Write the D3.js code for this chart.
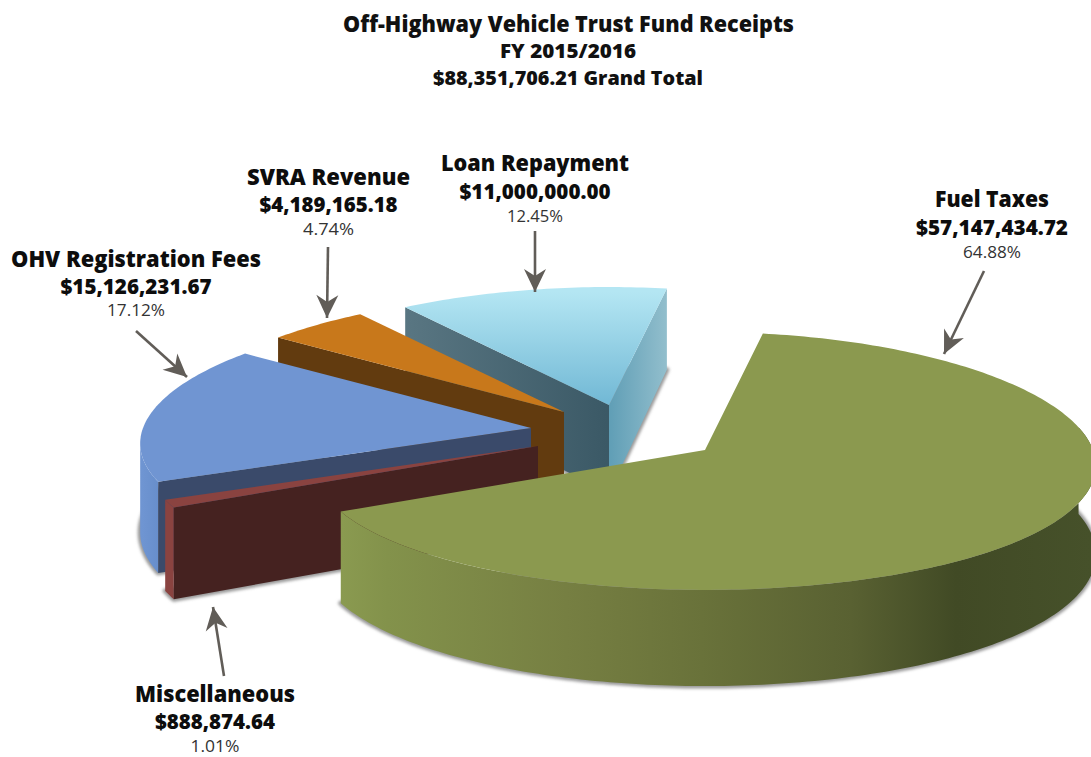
<!DOCTYPE html>
<html><head><meta charset="utf-8">
<script src="https://cdnjs.cloudflare.com/ajax/libs/d3/7.8.5/d3.min.js"></script>
<style>html,body{margin:0;background:#fff;overflow:hidden}svg{display:block}</style>
</head><body><svg id="c" width="1091" height="757"></svg>
<script>
const categories = ["Fuel Taxes","Miscellaneous","OHV Registration Fees","SVRA Revenue","Loan Repayment"];
const amounts = [57147434.72,888874.64,15126231.67,4189165.18,11000000.00];
const amountLabels = ["$57,147,434.72","$888,874.64","$15,126,231.67","$4,189,165.18","$11,000,000.00"];
const percentLabels = ["64.88%","1.01%","17.12%","4.74%","12.45%"];
const titleLines = ["Off-Highway Vehicle Trust Fund Receipts","FY 2015/2016","$88,351,706.21 Grand Total"];

const W=1091,H=757, svg=d3.select("#c");
const deg=Math.PI/180;
// layout
const apex = {"Fuel Taxes":[705,450],"Miscellaneous":[538,446],"OHV Registration Fees":[531,428],"SVRA Revenue":[564,412],"Loan Repayment":[609,405]};
const sx=d3.scaleLinear().domain([-1,1]).range([-388,388]);
const sy=d3.scaleLinear().domain([-1,1]).range([-128,128]);
const K=0.085, KX=0.12, DEPTH=88;
const pie=d3.pie().sort(null).value(d=>d).startAngle(9.6*deg).endAngle(369.6*deg);
const arcs=pie(amounts);
const slice=categories.map((c,i)=>({name:c,start:arcs[i].startAngle,end:arcs[i].endAngle,apex:apex[c]}));
const byName=Object.fromEntries(slice.map(s=>[s.name,s]));

function proj(s,t,r,low){
  const X=r*Math.sin(t),Y=-r*Math.cos(t),f=1/(1-K*Y),fx=1/(1-KX*Y);
  return [s.apex[0]+sx(X)*fx, s.apex[1]+sy(Y)*f+(low?DEPTH*f:0)];
}
function rim(s,a,b,low){
  const n=Math.max(2,Math.ceil(Math.abs(b-a)/(1*deg)));
  return d3.range(n+1).map(i=>proj(s,a+(b-a)*i/n,1,low));
}
const line=d3.line().curve(d3.curveLinear);
const closed=p=>line(p)+"Z";
const topFace=s=>closed([proj(s,0,0,false),...rim(s,s.start,s.end,false)]);
const baseFace=s=>closed([proj(s,0,0,true),...rim(s,s.start,s.end,true)]);
const cut=(s,t)=>closed([proj(s,0,0,false),proj(s,t,1,false),proj(s,t,1,true),proj(s,0,0,true)]);
const wall=(s,a,b)=>closed([...rim(s,a,b,false),...rim(s,b,a,true)]);
// angle of a slice's leftmost rim point, where its outer wall turns out of sight
function leftmost(s){
  const ts=d3.range(s.start,s.end,0.5*deg);
  return ts[d3.leastIndex(ts,(a,b)=>proj(s,a,1,false)[0]-proj(s,b,1,false)[0])];
}

// defs
const defs=svg.append("defs");
function grad(id,x1,y1,x2,y2,stops){
  const g=defs.append("linearGradient").attr("id",id).attr("gradientUnits","userSpaceOnUse")
    .attr("x1",x1).attr("y1",y1).attr("x2",x2).attr("y2",y2);
  stops.forEach(([o,c])=>g.append("stop").attr("offset",o).attr("stop-color",c));
}
grad("loanTop",0,292,0,400,[[0,"#b4e6f3"],[1,"#74bad6"]]);
grad("loanCut",406,0,607,0,[[0,"#597682"],[1,"#3b5966"]]);
grad("loanSide",607,0,668,0,[[0,"#5e9db5"],[1,"#93bfcd"]]);
grad("fuelWall",342,0,1091,0,[[0,"#8a9a50"],[.06,"#83924b"],[.3,"#767f42"],[.48,"#69723a"],[.68,"#596132"],[.82,"#414a25"],[1,"#46512a"]]);
grad("ohvWall",142,0,170,0,[[0,"#6f95d2"],[1,"#6289c6"]]);
const blur=defs.append("filter").attr("id","sh").attr("x","-10%").attr("y","-10%").attr("width","120%").attr("height","120%");
blur.append("feGaussianBlur").attr("stdDeviation",1.6);
defs.append("marker").attr("id","head").attr("markerUnits","userSpaceOnUse")
  .attr("viewBox","-24 -12 26 24").attr("refX",0).attr("refY",0).attr("markerWidth",26).attr("markerHeight",24).attr("orient","auto")
  .append("path").attr("d","M0,0L-23,-11L-16,0L-23,11Z").attr("fill","#615d58");

// shadows
const shadows=svg.append("g").attr("filter","url(#sh)");
slice.forEach(s=>shadows.append("path").attr("d",baseFace(s)).attr("fill","#9a9a9a").attr("stroke","#9a9a9a").attr("stroke-width",5).attr("stroke-linejoin","round"));

const g=svg.append("g");
const paint=(d,fill)=>g.append("path").attr("d",d).attr("fill",fill);

const L=byName["Loan Repayment"],S=byName["SVRA Revenue"],O=byName["OHV Registration Fees"],M=byName["Miscellaneous"],F=byName["Fuel Taxes"];
// Loan
paint(cut(L,L.start),"url(#loanCut)");
paint(cut(L,L.end),"url(#loanSide)");
paint(topFace(L),"url(#loanTop)");
// SVRA
paint(cut(S,S.start),"#623b0f");
paint(topFace(S),"#c8781b");
// OHV
paint(wall(O,O.start,leftmost(O)),"url(#ohvWall)");
paint(cut(O,O.start),"#3a4a6a");
paint(topFace(O),"#7095d2");
// Misc
paint(wall(M,M.start,M.end),"#8a4340");
paint(cut(M,M.start),"#452220");
paint(topFace(M),"#8a4340");
// Fuel
paint(wall(F,F.start+70*deg,F.end),"url(#fuelWall)");
paint(topFace(F),"#8b994f");

// arrows
const arrows=[[984,271,944,354],[535,231,535,292],[328,247,327,318],[136,331,187,377],[224,676,213,607]];
svg.append("g").selectAll("line").data(arrows).join("line")
  .attr("x1",d=>d[0]).attr("y1",d=>d[1]).attr("x2",d=>d[2]).attr("y2",d=>d[3])
  .attr("stroke","#615d58").attr("stroke-width",2.6).attr("marker-end","url(#head)");

// text
const FONT="'Open Sans',sans-serif";
function txt(t,cx,y,w,size,weight,fill){
  svg.append("text").attr("x",cx).attr("y",y).attr("text-anchor","middle")
   .attr("font-family",FONT).attr("font-size",size).attr("font-weight",weight).attr("fill",fill)
   .attr("textLength",w).attr("lengthAdjust","spacingAndGlyphs").text(t);
}
txt(titleLines[0],568.5,32,451,22,800,"#111");
txt(titleLines[1],568,58,136,19.5,800,"#111");
txt(titleLines[2],568,85,270,19.5,800,"#111");
const labelPos={ // cx, baselines, widths
 "Fuel Taxes":[992,[207,235,258],[114,152,58]],
 "Miscellaneous":[215,[702,729,752],[160,120,49]],
 "OHV Registration Fees":[136,[267,294,316],[250,151,58]],
 "SVRA Revenue":[328.5,[185,212,235],[163,138,51]],
 "Loan Repayment":[535,[171,199,222],[188,151,56]]
};
categories.forEach((c,i)=>{
  const [cx,ys,ws]=labelPos[c];
  txt(c,cx,ys[0],ws[0],23,800,"#0d0d0d");
  txt(amountLabels[i],cx,ys[1],ws[1],21,800,"#0d0d0d");
  txt(percentLabels[i],cx,ys[2],ws[2],16,400,"#333");
});
</script></body></html>
